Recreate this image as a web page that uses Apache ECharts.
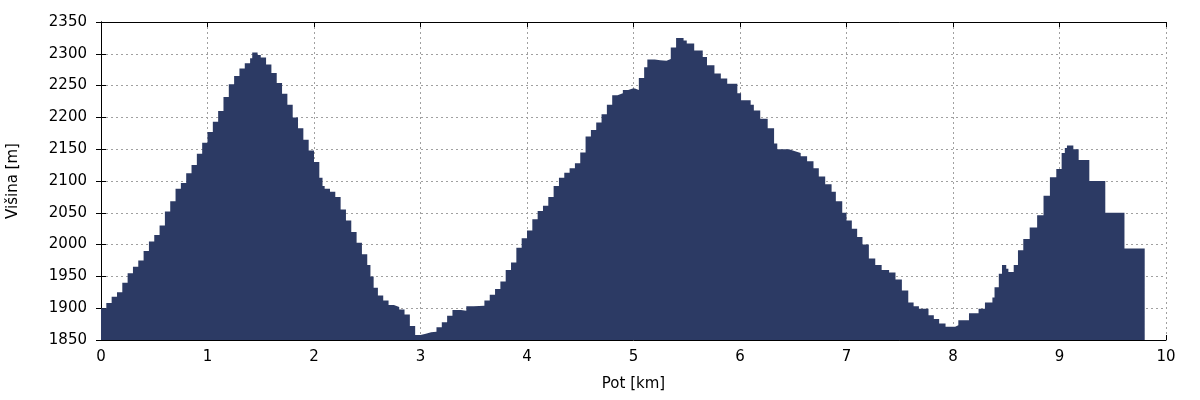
<!DOCTYPE html>
<html>
<head>
<meta charset="utf-8">
<script src="https://cdn.jsdelivr.net/npm/echarts@6/dist/echarts.min.js"></script>
<style>
html,body{margin:0;padding:0;background:#fff;}
#chart{width:1200px;height:400px;}
</style>
</head>
<body>
<div id="chart"></div>
<script>
// distance along the route [km]
const distanceKm = [
  0.00,0.05,0.10,0.15,0.20,0.25,0.30,0.35,0.40,0.45,
  0.50,0.55,0.60,0.65,0.70,0.75,0.80,0.85,0.90,0.95,
  1.00,1.05,1.10,1.15,1.20,1.25,1.30,1.35,1.40,1.42,
  1.47,1.50,1.55,1.60,1.65,1.70,1.75,1.80,1.85,1.90,
  1.95,2.00,2.05,2.08,2.10,2.15,2.20,2.25,2.30,2.35,
  2.40,2.45,2.50,2.53,2.56,2.60,2.65,2.70,2.75,2.80,
  2.85,2.90,2.95,3.00,3.05,3.10,3.15,3.20,3.25,3.30,
  3.38,3.43,3.50,3.60,3.65,3.70,3.75,3.80,3.85,3.90,
  3.95,4.00,4.05,4.10,4.15,4.20,4.25,4.30,4.35,4.40,
  4.45,4.50,4.55,4.60,4.65,4.70,4.75,4.80,4.85,4.90,
  4.95,5.00,5.02,5.05,5.10,5.13,5.20,5.25,5.31,5.35,
  5.40,5.47,5.50,5.57,5.65,5.69,5.76,5.82,5.88,5.975,
  6.01,6.10,6.13,6.19,6.26,6.32,6.35,6.46,6.51,6.57,
  6.63,6.69,6.74,6.80,6.86,6.90,6.96,7.00,7.05,7.10,
  7.15,7.21,7.27,7.33,7.40,7.46,7.52,7.58,7.63,7.68,
  7.77,7.82,7.87,7.93,8.02,8.05,8.15,8.24,8.30,8.37,
  8.39,8.43,8.46,8.50,8.52,8.57,8.61,8.66,8.72,8.79,
  8.85,8.91,8.97,9.02,9.05,9.07,9.13,9.18,9.28,9.43,
  9.61,9.80
];
// elevation [m]
const elevationM = [
  1900,1908,1918,1925,1940,1955,1965,1975,1990,2005,
  2015,2030,2052,2068,2088,2097,2112,2125,2143,2160,
  2177,2193,2210,2232,2252,2265,2277,2285,2293,2302,
  2298,2294,2283,2270,2254,2237,2220,2200,2183,2165,
  2148,2130,2105,2092,2088,2083,2075,2055,2038,2020,
  2003,1985,1968,1950,1932,1920,1912,1905,1902,1898,
  1890,1872,1858,1860,1862,1863,1870,1878,1888,1897,
  1896,1903,1904,1912,1921,1930,1942,1960,1972,1995,
  2010,2022,2040,2053,2061,2075,2092,2105,2113,2120,
  2128,2145,2170,2180,2192,2205,2220,2235,2238,2243,
  2246,2245,2243,2262,2279,2291,2290,2289,2292,2310,
  2325,2321,2316,2305,2295,2282,2269,2261,2253,2238,
  2227,2220,2211,2198,2183,2159,2150,2147,2144,2139,
  2131,2120,2107,2095,2083,2068,2050,2038,2025,2012,
  2000,1978,1968,1960,1956,1945,1928,1909,1903,1899,
  1889,1883,1876,1871,1873,1881,1892,1899,1909,1917,
  1933,1954,1968,1962,1957,1968,1991,2009,2027,2046,
  2077,2106,2119,2144,2152,2156,2150,2133,2100,2050,
  1994,1994
];
const xTicks = [0,1,2,3,4,5,6,7,8,9,10];
const yTicks = [1850,1900,1950,2000,2050,2100,2150,2200,2250,2300,2350];

const seriesData = distanceKm.map((d, i) => [d, elevationM[i]]);

const chart = echarts.init(document.getElementById('chart'), null, {renderer: 'canvas'});
const font = 'DejaVu Sans';
const gridLine = {show: true, lineStyle: {color: '#a0a0a0', width: 1, type: [2, 3]}};
const xMin = xTicks[0], xMax = xTicks[xTicks.length - 1];
const yMin = yTicks[0], yMax = yTicks[yTicks.length - 1];
const plain = v => String(v);

chart.setOption({
  animation: false,
  backgroundColor: '#ffffff',
  grid: {left: 101, right: 34, top: 22, bottom: 60, containLabel: false, outerBoundsMode: 'none'},
  xAxis: [{
    type: 'value', min: xMin, max: xMax, interval: 1, position: 'bottom',
    name: 'Pot [km]', nameLocation: 'middle', nameGap: 37,
    nameTextStyle: {fontFamily: font, fontSize: 15, color: '#000'},
    axisLine: {show: true, lineStyle: {color: '#000', width: 1}},
    axisTick: {show: true, inside: true, length: 5, lineStyle: {color: '#000'}},
    axisLabel: {fontFamily: font, fontSize: 15, color: '#000', margin: 10, formatter: plain},
    splitLine: gridLine
  }, {
    type: 'value', min: xMin, max: xMax, interval: 1, position: 'top',
    axisLine: {show: true, lineStyle: {color: '#000', width: 1}},
    axisTick: {show: true, inside: true, length: 5, lineStyle: {color: '#000'}},
    axisLabel: {show: false}, splitLine: {show: false}
  }],
  yAxis: [{
    type: 'value', min: yMin, max: yMax, interval: 50, position: 'left',
    name: 'Višina [m]', nameLocation: 'middle', nameGap: 80, nameRotate: 90,
    nameTextStyle: {fontFamily: font, fontSize: 15, color: '#000'},
    axisLine: {show: true, lineStyle: {color: '#000', width: 1}},
    axisTick: {show: true, inside: true, length: 5, lineStyle: {color: '#000'}},
    axisLabel: {fontFamily: font, fontSize: 15, color: '#000', margin: 14, formatter: plain},
    splitLine: gridLine
  }, {
    type: 'value', min: yMin, max: yMax, interval: 50, position: 'right',
    axisLine: {show: true, lineStyle: {color: '#000', width: 1}},
    axisTick: {show: true, inside: true, length: 5, lineStyle: {color: '#000'}},
    axisLabel: {show: false}, splitLine: {show: false}
  }],
  series: [{
    type: 'line',
    data: seriesData,
    step: 'end',
    symbol: 'none',
    lineStyle: {width: 0, color: '#2c3a64'},
    areaStyle: {color: '#2c3a64', opacity: 1, origin: 'start'},
    silent: true
  }]
});
</script>
</body>
</html>
